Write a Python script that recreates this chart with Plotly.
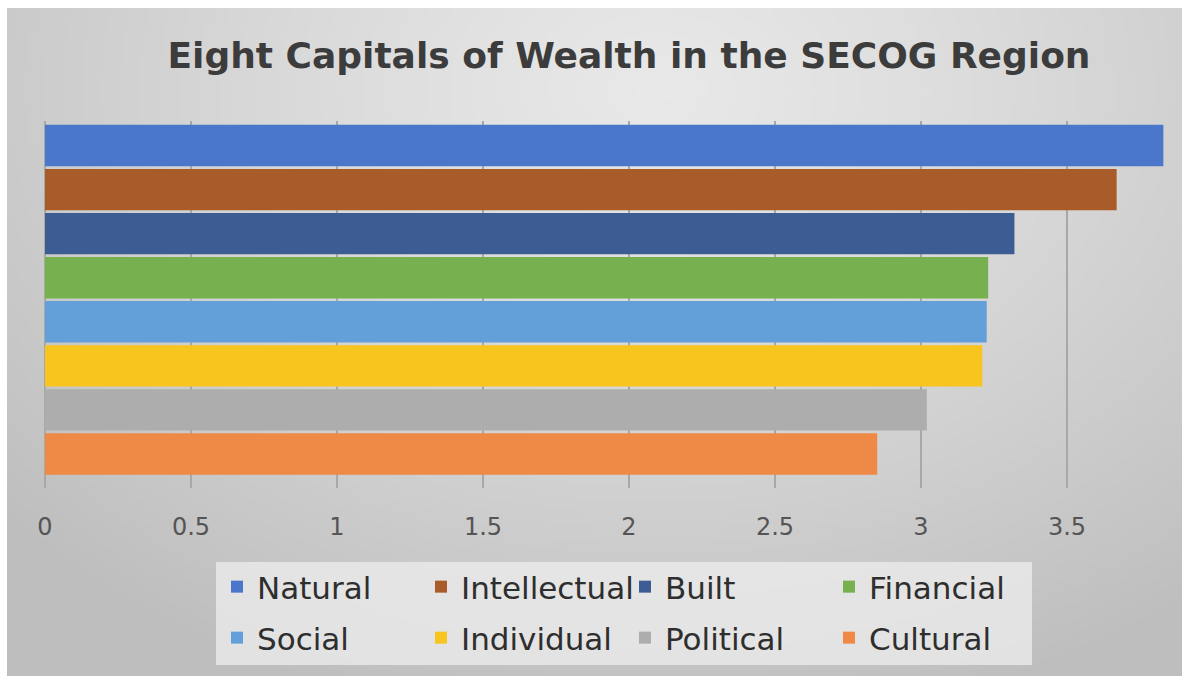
import zlib, struct, base64, math
import plotly.graph_objects as go

# ---------------- data ----------------
series_names = ["Natural", "Intellectual", "Built", "Financial",
                "Social", "Individual", "Political", "Cultural"]
series_values = [3.83, 3.67, 3.32, 3.23, 3.225, 3.21, 3.02, 2.85]
series_colors = ["#4A77C9", "#A95B2A", "#3D5C93", "#76B04F",
                 "#63A0D9", "#F8C41E", "#ADADAD", "#EE8A45"]
category = ["SECOG"]
x_ticks = [0, 0.5, 1, 1.5, 2, 2.5, 3, 3.5]
x_tick_labels = ["0", "0.5", "1", "1.5", "2", "2.5", "3", "3.5"]

# ---------------- background gradient (pure-python PNG) ----------------
def make_gradient_png(w, h):
    rows = []
    cx, cy = 0.55 * w, 0.12 * h
    maxd = math.hypot(max(cx, w - cx), max(cy, h - cy) * 1.0)
    for j in range(h):
        row = bytearray()
        for i in range(w):
            d = math.hypot((i - cx), (j - cy) * 1.35) / maxd
            d = min(d, 1.0)
            v = int(round(232 - 42 * d ** 1.2))
            row += bytes((v, v, v))
        rows.append(b"\x00" + bytes(row))
    raw = b"".join(rows)

    def chunk(t, d):
        return (struct.pack(">I", len(d)) + t + d +
                struct.pack(">I", zlib.crc32(t + d) & 0xFFFFFFFF))
    png = (b"\x89PNG\r\n\x1a\n" +
           chunk(b"IHDR", struct.pack(">IIBBBBB", w, h, 8, 2, 0, 0, 0)) +
           chunk(b"IDAT", zlib.compress(raw, 9)) +
           chunk(b"IEND", b""))
    return "data:image/png;base64," + base64.b64encode(png).decode()

bg_src = make_gradient_png(236, 134)

# ---------------- layout geometry ----------------
W, H = 1182, 676
L, R, T, B = 45, 0, 121, 188
pw, ph = W - L - R, H - T - B
px_per_unit = 292.0
x_max = pw / px_per_unit

def px_to_paper_x(px):
    return (px - L) / pw

def px_to_paper_y(py):
    return (H - B - py) / ph

fig = go.Figure()
for i, (name, val, col) in enumerate(zip(series_names, series_values, series_colors)):
    fig.add_trace(go.Bar(
        name=name, x=[val], y=category, orientation="h",
        marker=dict(color=col, line=dict(width=0)),
        legend="legend" if i < 4 else "legend2",
        hoverinfo="x+name",
    ))

legend_common = dict(
    orientation="h", bgcolor="rgba(0,0,0,0)", borderwidth=0,
    font=dict(family="DejaVu Sans", size=31, color="#2e2e2e"),
    entrywidth=159, entrywidthmode="pixels",
    xanchor="left", yanchor="middle", traceorder="normal",
    itemclick=False, itemdoubleclick=False,
)

fig.update_layout(
    width=W, height=H,
    margin=dict(l=L, r=R, t=T, b=B, pad=0),
    paper_bgcolor="white",
    plot_bgcolor="rgba(0,0,0,0)",
    barmode="group", bargap=0.05, bargroupgap=0.06,
    title=dict(
        text="Eight Capitals of Wealth in the SECOG Region",
        x=629 / W, xanchor="center", xref="container",
        y=1 - 55 / H, yanchor="middle", yref="container",
        font=dict(family="DejaVu Sans", size=36, color="#3c3c3c", weight="bold"),
    ),
    xaxis=dict(
        range=[0, x_max], tickvals=x_ticks, ticktext=x_tick_labels,
        showgrid=True, gridcolor="#a8a8a8", gridwidth=1.5,
        zeroline=True, zerolinecolor="#a8a8a8", zerolinewidth=1.5,
        showline=False, ticks="", ticklabelstandoff=22,
        tickfont=dict(family="DejaVu Sans", size=24, color="#555555"),
        fixedrange=True,
    ),
    yaxis=dict(
        range=[0.5074, -0.4818], showticklabels=False, showgrid=False,
        zeroline=False, showline=False, ticks="", fixedrange=True,
    ),
    legend=dict(legend_common, x=px_to_paper_x(217), y=px_to_paper_y(587)),
    legend2=dict(legend_common, x=px_to_paper_x(217), y=px_to_paper_y(638)),
    images=[dict(
        source=bg_src, xref="paper", yref="paper",
        x=px_to_paper_x(7), y=px_to_paper_y(8),
        sizex=(W - 7) / pw, sizey=(H - 8) / ph,
        xanchor="left", yanchor="top", sizing="stretch", layer="below",
    )],
    shapes=[dict(
        type="rect", xref="paper", yref="paper", layer="below",
        x0=px_to_paper_x(216), x1=px_to_paper_x(1032),
        y0=px_to_paper_y(665), y1=px_to_paper_y(562),
        fillcolor="rgba(238,238,238,0.75)", line=dict(width=0),
    )],
    showlegend=True,
)

fig.write_html("out.html")
